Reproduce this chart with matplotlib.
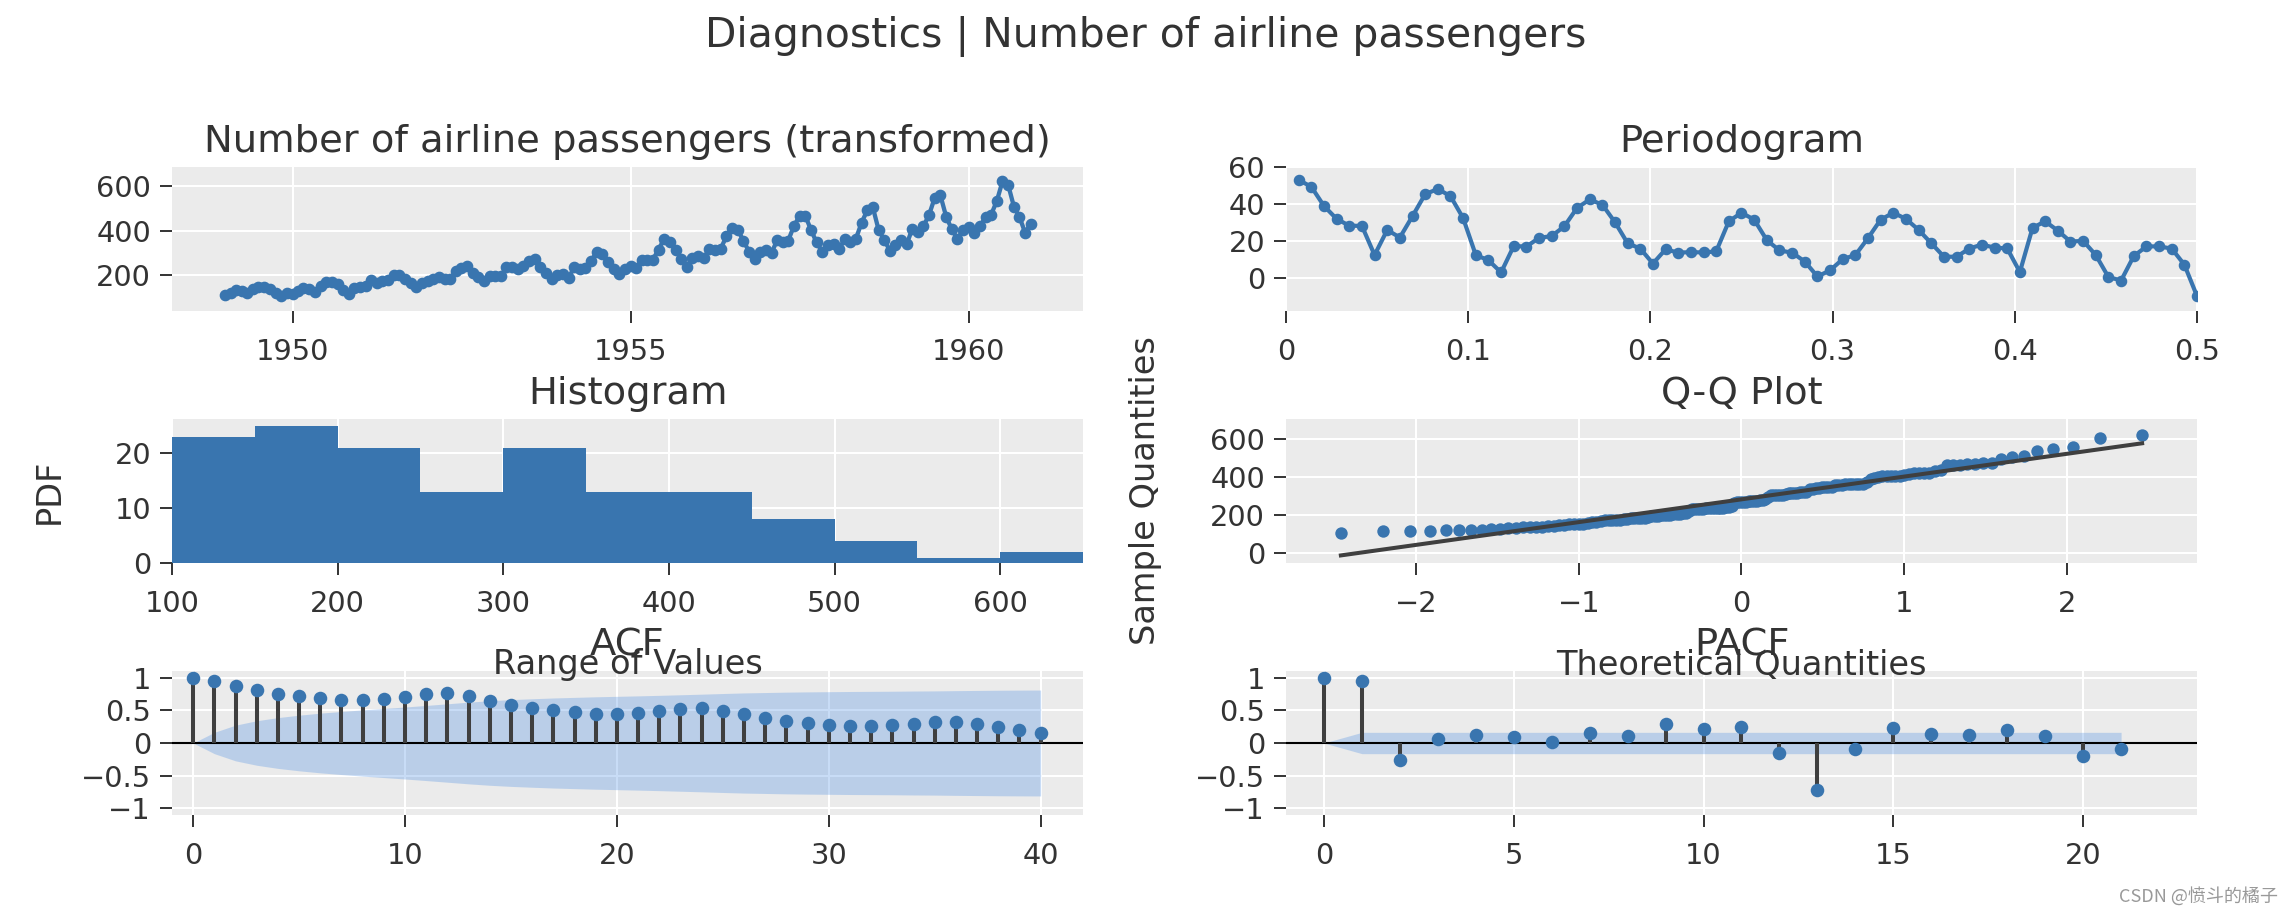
import matplotlib
matplotlib.use("Agg")
import matplotlib.pyplot as plt
import matplotlib.dates as mdates
import numpy as np
import pandas as pd
from statistics import NormalDist

plt.rcParams['font.family'] = ['DejaVu Sans']

# monthly airline passengers 1949-1960
passengers = [
    112, 118, 132, 129, 121, 135, 148, 148, 136, 119, 104, 118,
    115, 126, 141, 135, 125, 149, 170, 170, 158, 133, 114, 140,
    145, 150, 178, 163, 172, 178, 199, 199, 184, 162, 146, 166,
    171, 180, 193, 181, 183, 218, 230, 242, 209, 191, 172, 194,
    196, 196, 236, 235, 229, 243, 264, 272, 237, 211, 180, 201,
    204, 188, 235, 227, 234, 264, 302, 293, 259, 229, 203, 229,
    242, 233, 267, 269, 270, 315, 364, 347, 312, 274, 237, 278,
    284, 277, 317, 313, 318, 374, 413, 405, 355, 306, 271, 306,
    315, 301, 356, 348, 355, 422, 465, 467, 404, 347, 305, 336,
    340, 318, 362, 348, 363, 435, 491, 505, 404, 359, 310, 337,
    360, 342, 406, 396, 420, 472, 548, 559, 463, 407, 362, 405,
    417, 391, 419, 461, 472, 535, 622, 606, 508, 461, 390, 432,
]
months = pd.date_range("1949-01-01", periods=len(passengers), freq="MS")

# periodogram (dB), frequencies k/144
periodogram = [
    53.2, 49.5, 39.1, 32.1, 28.4, 28.3, 12.5, 26.1, 22.0, 33.6,
    45.5, 48.3, 44.4, 32.5, 12.5, 9.7, 3.1, 17.4, 17.1, 21.8,
    22.8, 28.1, 38.0, 42.6, 39.8, 30.3, 18.9, 16.0, 7.9, 15.6,
    13.8, 14.1, 13.9, 14.5, 30.8, 35.4, 31.7, 20.6, 15.0, 13.8,
    9.0, 0.9, 4.2, 10.3, 12.5, 21.7, 31.7, 35.4, 32.1, 26.1,
    18.9, 11.6, 11.6, 16.0, 18.2, 16.5, 16.1, 3.3, 27.2, 30.8,
    25.7, 19.8, 20.2, 12.5, 0.6, -1.3, 11.9, 17.2, 17.2, 16.0,
    7.3, -9.7,
]
freqs = np.arange(1, len(periodogram) + 1) / (2 * len(periodogram))

hist_edges = [100, 150, 200, 250, 300, 350, 400, 450, 500, 550, 600, 650]
hist_counts = [23, 25, 21, 13, 21, 13, 13, 8, 4, 1, 2]

qq_line_y = [-15, 576]

acf_vals = [
    1.0, 0.948, 0.876, 0.807, 0.753, 0.714, 0.682, 0.663, 0.656, 0.671,
    0.703, 0.743, 0.760, 0.713, 0.646, 0.586, 0.538, 0.500, 0.469, 0.450,
    0.442, 0.457, 0.482, 0.517, 0.532, 0.494, 0.438, 0.388, 0.343, 0.306,
    0.280, 0.263, 0.259, 0.271, 0.291, 0.316, 0.324, 0.292, 0.243, 0.198,
    0.160,
]
acf_band = [
    0.0, 0.163, 0.273, 0.340, 0.388, 0.425, 0.456, 0.482, 0.506, 0.528,
    0.550, 0.574, 0.599, 0.624, 0.646, 0.663, 0.676, 0.688, 0.697, 0.706,
    0.713, 0.720, 0.728, 0.737, 0.746, 0.756, 0.765, 0.771, 0.777, 0.781,
    0.784, 0.787, 0.789, 0.791, 0.794, 0.796, 0.800, 0.803, 0.806, 0.808,
    0.809,
]
pacf_vals = [
    1.0, 0.954, -0.259, 0.066, 0.117, 0.086, 0.010, 0.152, 0.112, 0.289,
    0.213, 0.244, -0.157, -0.716, -0.086, 0.228, 0.137, 0.117, 0.193, 0.107,
    -0.198, -0.086,
]
pacf_band = [0.0] + [0.163] * 21

BLUE = '#3975AF'
STEM = '#3F3F3F'
TXT = '#333333'
BG = '#EBEBEB'
BAND = (75 / 255, 142 / 255, 228 / 255)

W, H = 2292, 914


def box(l, t, r, b):
    return [l / W, 1 - b / H, (r - l) / W, (b - t) / H]


def style(ax):
    ax.set_facecolor(BG)
    for s in ax.spines.values():
        s.set_visible(False)
    ax.grid(True, color='white', linewidth=1.5)
    ax.set_axisbelow(True)
    ax.tick_params(axis='both', colors=TXT, labelsize=20.8, length=8.6, width=1.4)
    ax.tick_params(axis='x', pad=10.5)
    ax.tick_params(axis='y', pad=6.5)


def ftext(x, y, s, **kw):
    fig.text(x / W, 1 - y / H, s, color=TXT, **kw)


fig = plt.figure(figsize=(W / 100, H / 100), dpi=100)

ax_ts = fig.add_axes(box(172, 167, 1083, 311))
ax_per = fig.add_axes(box(1286, 167, 2197, 311))
ax_hist = fig.add_axes(box(172, 419, 1083, 563))
ax_qq = fig.add_axes(box(1286, 419, 2197, 563))
ax_acf = fig.add_axes(box(172, 671, 1083, 815))
ax_pacf = fig.add_axes(box(1286, 671, 2197, 815))
for a in (ax_ts, ax_per, ax_hist, ax_qq, ax_acf, ax_pacf):
    style(a)

# time series
ax_ts.plot(months, passengers, color=BLUE, lw=3.1, marker='o', ms=7.4)
ax_ts.set_xlim(pd.Timestamp('1948-03-21'), pd.Timestamp('1961-09-09'))
ax_ts.set_ylim(38, 687)
ax_ts.set_yticks([200, 400, 600])
ax_ts.xaxis.set_major_locator(mdates.YearLocator(5))
ax_ts.xaxis.set_major_formatter(mdates.DateFormatter('%Y'))

# periodogram
ax_per.plot(freqs, periodogram, color=BLUE, lw=3.0, marker='o', ms=7.3)
ax_per.set_xlim(0, 0.5)
ax_per.set_ylim(-17.8, 60.2)
ax_per.set_yticks([0, 20, 40, 60])
ax_per.set_xticks([0, 0.1, 0.2, 0.3, 0.4, 0.5])
ax_per.set_xticklabels(['0', '0.1', '0.2', '0.3', '0.4', '0.5'])

# histogram
ax_hist.bar(hist_edges[:-1], hist_counts, width=np.diff(hist_edges), align='edge',
            color=BLUE, linewidth=0)
ax_hist.set_xlim(100, 650)
ax_hist.set_ylim(0, 26.3)
ax_hist.set_yticks([0, 10, 20])
ax_hist.set_xticks([100, 200, 300, 400, 500, 600])

# Q-Q plot
n = len(passengers)
theo_q = [NormalDist().inv_cdf(i / (n + 1)) for i in range(1, n + 1)]
ax_qq.scatter(theo_q, sorted(passengers), s=80, color=BLUE, linewidths=0, zorder=3)
ax_qq.plot([theo_q[0], theo_q[-1]], qq_line_y, color=STEM, lw=2.9, zorder=4)
ax_qq.set_xlim(-2.8, 2.8)
ax_qq.set_ylim(-55, 704)
ax_qq.set_xticks([-2, -1, 0, 1, 2])
ax_qq.set_yticks([0, 200, 400, 600])


def corr_plot(ax, vals, band, xmax, xticks):
    lags = np.arange(len(vals))
    ax.fill_between(lags, -np.array(band), band, color=BAND,
                    alpha=0.3, linewidth=0, zorder=1)
    ax.axhline(0, color='black', lw=1.5, zorder=2)
    ax.vlines(lags, 0, vals, color=STEM, lw=2.9, zorder=3)
    ax.scatter(lags, vals, s=95, color=BLUE, linewidths=0, zorder=4)
    ax.set_xlim(-1, xmax)
    ax.set_ylim(-1.1, 1.1)
    ax.set_yticks([-1, -0.5, 0, 0.5, 1])
    ax.set_yticklabels(['\u22121', '\u22120.5', '0', '0.5', '1'])
    ax.set_xticks(xticks)


corr_plot(ax_acf, acf_vals, acf_band, 42, [0, 10, 20, 30, 40])
corr_plot(ax_pacf, pacf_vals, pacf_band, 23, [0, 5, 10, 15, 20])

# titles and labels
ftext(1146, 47, 'Diagnostics | Number of airline passengers', fontsize=29.4,
      ha='center', va='baseline')
lc, rc = 627.5, 1741.5
ftext(lc, 152, 'Number of airline passengers (transformed)', fontsize=27.7, ha='center', va='baseline')
ftext(rc, 152, 'Periodogram', fontsize=27.7, ha='center', va='baseline')
ftext(lc, 404, 'Histogram', fontsize=27.7, ha='center', va='baseline')
ftext(rc, 404, 'Q-Q Plot', fontsize=27.7, ha='center', va='baseline')
ftext(lc, 655, 'ACF', fontsize=27.7, ha='center', va='baseline')
ftext(rc, 655, 'PACF', fontsize=27.7, ha='center', va='baseline')
ftext(lc, 674, 'Range of Values', fontsize=24.2, ha='center', va='baseline')
ftext(rc, 675, 'Theoretical Quantities', fontsize=24.2, ha='center', va='baseline')
ftext(49, 491, 'PDF', fontsize=24.2, rotation=90, ha='center', va='center')
ftext(1146, 491, 'Sample Quantities', fontsize=24.2, rotation=90, ha='center', va='center')

fig.text(2278 / W, 1 - 902 / H, 'CSDN @愤斗的橘子', fontsize=13, color='#999999',
         ha='right', va='baseline', family=['Noto Sans CJK SC', 'DejaVu Sans'])

fig.savefig('out.png', dpi=100, facecolor='white')
